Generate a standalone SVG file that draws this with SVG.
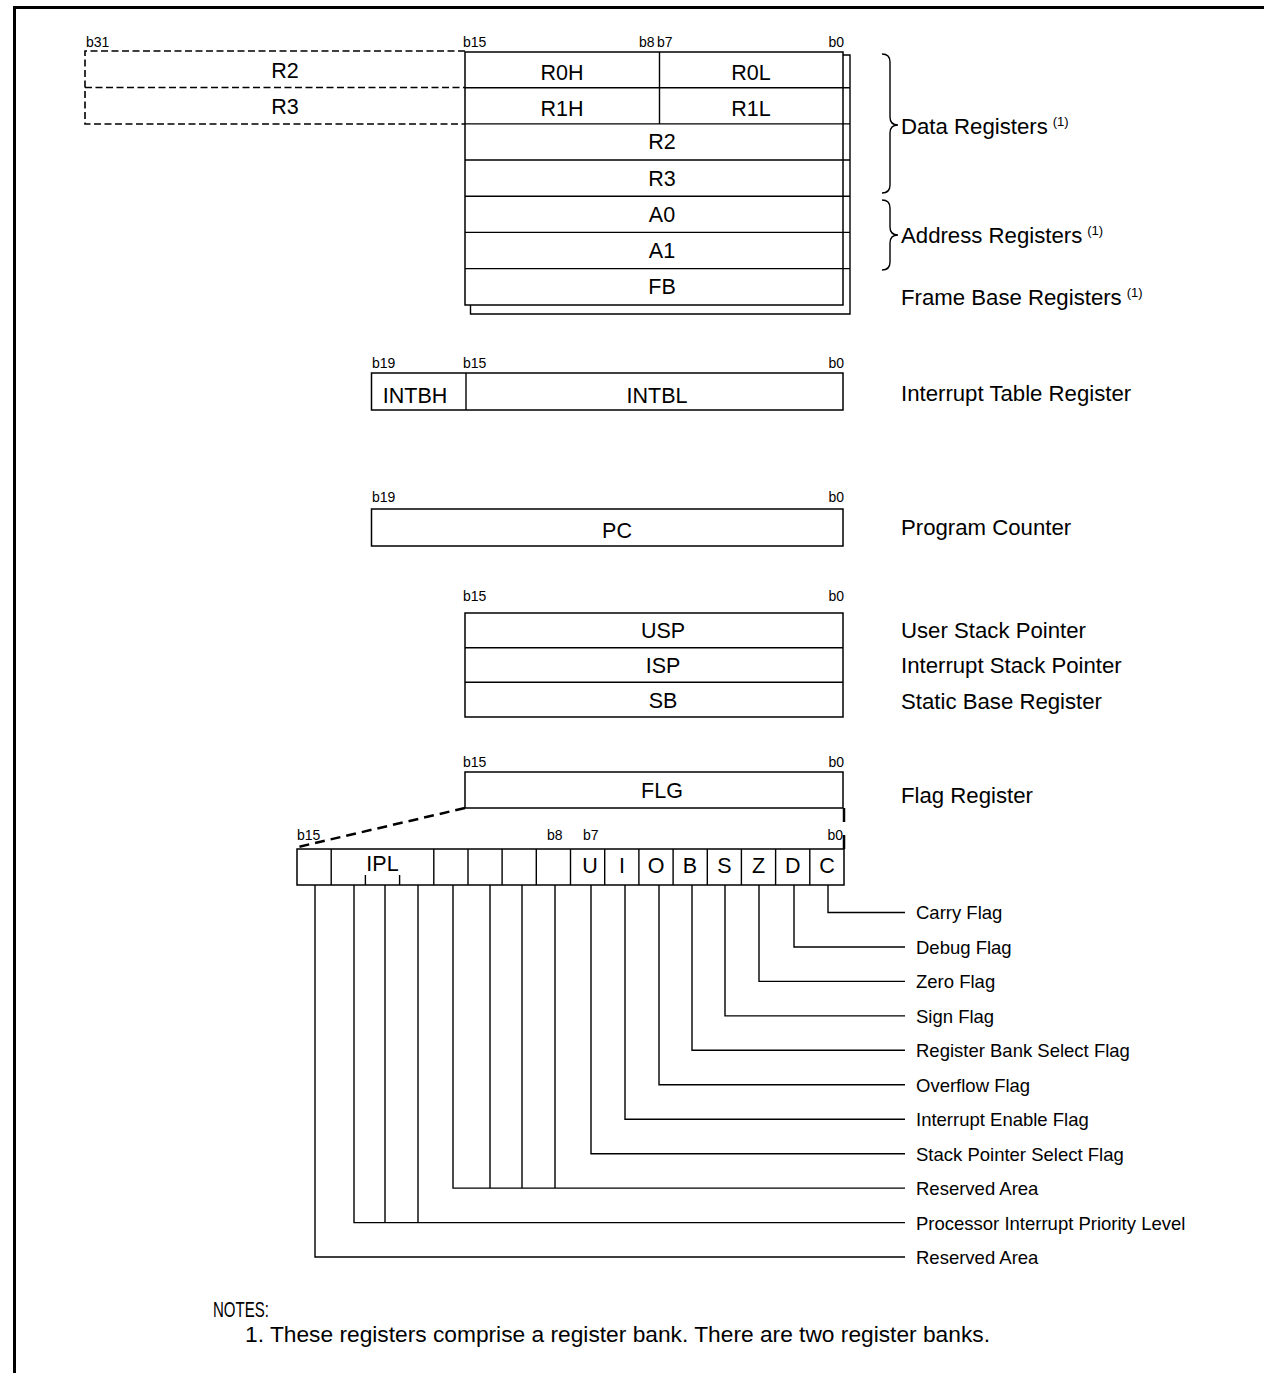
<svg xmlns="http://www.w3.org/2000/svg" width="1264" height="1373" viewBox="0 0 1264 1373">
<style>
.box{fill:#fff;stroke:#000;stroke-width:1.5}
.ln{fill:none;stroke:#000;stroke-width:1.4}
.dash{fill:none;stroke:#000;stroke-width:1.6;stroke-dasharray:7,3.5}
.big{font-family:"Liberation Sans",Arial,sans-serif;font-size:21.5px;fill:#000}
.lab{font-family:"Liberation Sans",Arial,sans-serif;font-size:22.2px;fill:#000}
.mid{font-family:"Liberation Sans",Arial,sans-serif;font-size:18.5px;fill:#000}
.sm{font-family:"Liberation Sans",Arial,sans-serif;font-size:14px;fill:#000}
.sup{font-size:13px}
.c{text-anchor:middle}
.e{text-anchor:end}
</style>
<rect width="1264" height="1373" fill="#fff"/>
<path d="M14.5,1373 L14.5,7.5 L1264,7.5" fill="none" stroke="#000" stroke-width="3"/>

<g id="ext-r2r3">
<path class="dash" d="M465,51 L85,51 L85,124 L465,124 M85,87.5 L465,87.5"/>
<text class="big c" x="285" y="78">R2</text>
<text class="big c" x="285" y="114">R3</text>
<text class="sm" x="86" y="47">b31</text>
</g>

<g id="bank-registers">
<path class="ln" d="M843,55 L850,55 L850,314 L470.5,314 L470.5,305 M843,87.7 L850,87.7 M843,123.9 L850,123.9 M843,160 L850,160 M843,196.2 L850,196.2 M843,232.4 L850,232.4 M843,268.6 L850,268.6"/>
<rect class="box" x="465" y="52" width="378" height="253"/>
<path class="ln" d="M465,87.7 L843,87.7 M465,123.9 L843,123.9 M465,160 L843,160 M465,196.2 L843,196.2 M465,232.4 L843,232.4 M465,268.6 L843,268.6 M659.5,52 L659.5,123.9"/>
<text class="sm" x="463" y="47">b15</text>
<text class="sm" x="639" y="47">b8</text>
<text class="sm" x="657" y="47">b7</text>
<text class="sm e" x="844" y="47">b0</text>
<text class="big c" x="562" y="80">R0H</text>
<text class="big c" x="751" y="80">R0L</text>
<text class="big c" x="562" y="116">R1H</text>
<text class="big c" x="751" y="116">R1L</text>
<text class="big c" x="662" y="149">R2</text>
<text class="big c" x="662" y="186">R3</text>
<text class="big c" x="662" y="222">A0</text>
<text class="big c" x="662" y="258">A1</text>
<text class="big c" x="662" y="294">FB</text>
</g>

<g id="data-registers-label">
<path class="ln" d="M882,54 Q890,54 890,62 L890,117 Q890,125 898,125 Q890,125 890,133 L890,185 Q890,193 882,193"/>
<text class="lab" x="901" y="134">Data Registers<tspan class="sup" dx="5" dy="-8">(1)</tspan></text>
</g>
<g id="address-registers-label">
<path class="ln" d="M882,200 Q890,200 890,208 L890,227 Q890,235 898,235 Q890,235 890,243 L890,262 Q890,270 882,270"/>
<text class="lab" x="901" y="243">Address Registers<tspan class="sup" dx="5" dy="-8">(1)</tspan></text>
</g>
<g id="frame-base-label">
<text class="lab" x="901" y="305">Frame Base Registers<tspan class="sup" dx="5" dy="-8">(1)</tspan></text>
</g>

<g id="intb">
<rect class="box" x="371.5" y="373" width="471.5" height="37"/>
<path class="ln" d="M466,373 L466,410"/>
<text class="sm" x="372" y="368">b19</text>
<text class="sm" x="463" y="368">b15</text>
<text class="sm e" x="844" y="368">b0</text>
<text class="big c" x="415" y="403">INTBH</text>
<text class="big c" x="657" y="403">INTBL</text>
<text class="lab" x="901" y="401">Interrupt Table Register</text>
</g>

<g id="pc">
<rect class="box" x="371.5" y="509" width="471.5" height="37"/>
<text class="sm" x="372" y="502">b19</text>
<text class="sm e" x="844" y="502">b0</text>
<text class="big c" x="617" y="538">PC</text>
<text class="lab" x="901" y="535">Program Counter</text>
</g>

<g id="stack-registers">
<rect class="box" x="465" y="613" width="378" height="104"/>
<path class="ln" d="M465,647.7 L843,647.7 M465,682.3 L843,682.3"/>
<text class="sm" x="463" y="601">b15</text>
<text class="sm e" x="844" y="601">b0</text>
<text class="big c" x="663" y="638">USP</text>
<text class="big c" x="663" y="673">ISP</text>
<text class="big c" x="663" y="708">SB</text>
<text class="lab" x="901" y="638">User Stack Pointer</text>
<text class="lab" x="901" y="673">Interrupt Stack Pointer</text>
<text class="lab" x="901" y="709">Static Base Register</text>
</g>

<g id="flg">
<rect class="box" x="465" y="772" width="378" height="36"/>
<text class="sm" x="463" y="767">b15</text>
<text class="sm e" x="844" y="767">b0</text>
<text class="big c" x="662" y="798">FLG</text>
<text class="lab" x="901" y="803">Flag Register</text>
</g>

<g id="flag-bits">
<rect class="box" x="297" y="849" width="547" height="36"/>
<path class="ln" d="M331.2,849 L331.2,885 M365.4,875 L365.4,885 M399.6,875 L399.6,885 M433.8,849 L433.8,885 M468,849 L468,885 M502.1,849 L502.1,885 M536.3,849 L536.3,885 M570.5,849 L570.5,885 M604.7,849 L604.7,885 M638.9,849 L638.9,885 M673.1,849 L673.1,885 M707.3,849 L707.3,885 M741.4,849 L741.4,885 M775.6,849 L775.6,885 M809.8,849 L809.8,885"/>
<text class="sm" x="297" y="840">b15</text>
<text class="sm" x="547" y="840">b8</text>
<text class="sm" x="583" y="840">b7</text>
<text class="sm e" x="843" y="840">b0</text>
<text class="big c" x="382.5" y="871">IPL</text>
<text class="big c" x="590" y="873">U</text>
<text class="big c" x="622" y="873">I</text>
<text class="big c" x="656" y="873">O</text>
<text class="big c" x="690" y="873">B</text>
<text class="big c" x="724.4" y="873">S</text>
<text class="big c" x="758.6" y="873">Z</text>
<text class="big c" x="792.8" y="873">D</text>
<text class="big c" x="827" y="873">C</text>
</g>

<g id="connectors">
<path d="M465,808 L298,847" fill="none" stroke="#000" stroke-width="2.5" stroke-dasharray="10,6"/>
<path d="M844,808 L844,849" fill="none" stroke="#000" stroke-width="2.5" stroke-dasharray="14,13"/>
<path class="ln" d="M828,885 L828,912.5 L905,912.5"/>
<path class="ln" d="M794,885 L794,947 L905,947"/>
<path class="ln" d="M759,885 L759,981.4 L905,981.4"/>
<path class="ln" d="M725,885 L725,1015.9 L905,1015.9"/>
<path class="ln" d="M692,885 L692,1050.3 L905,1050.3"/>
<path class="ln" d="M659,885 L659,1084.8 L905,1084.8"/>
<path class="ln" d="M625,885 L625,1119.2 L905,1119.2"/>
<path class="ln" d="M591,885 L591,1153.7 L905,1153.7"/>
<path class="ln" d="M453,885 L453,1188.1 L905,1188.1 M490,885 L490,1188.1 M522,885 L522,1188.1 M555,885 L555,1188.1"/>
<path class="ln" d="M354,885 L354,1222.6 L905,1222.6 M385,885 L385,1222.6 M418,885 L418,1222.6"/>
<path class="ln" d="M315,885 L315,1257 L905,1257"/>
</g>

<g id="flag-labels">
<text class="mid" x="916" y="919">Carry Flag</text>
<text class="mid" x="916" y="953.5">Debug Flag</text>
<text class="mid" x="916" y="988">Zero Flag</text>
<text class="mid" x="916" y="1022.5">Sign Flag</text>
<text class="mid" x="916" y="1057">Register Bank Select Flag</text>
<text class="mid" x="916" y="1091.5">Overflow Flag</text>
<text class="mid" x="916" y="1126">Interrupt Enable Flag</text>
<text class="mid" x="916" y="1160.5">Stack Pointer Select Flag</text>
<text class="mid" x="916" y="1195">Reserved Area</text>
<text class="mid" x="916" y="1229.5">Processor Interrupt Priority Level</text>
<text class="mid" x="916" y="1264">Reserved Area</text>
</g>

<g id="notes">
<text class="big" x="213" y="1317" textLength="56" lengthAdjust="spacingAndGlyphs">NOTES:</text>
<text class="big" x="245" y="1342" textLength="745" lengthAdjust="spacingAndGlyphs">1. These registers comprise a register bank. There are two register banks.</text>
</g>
</svg>
